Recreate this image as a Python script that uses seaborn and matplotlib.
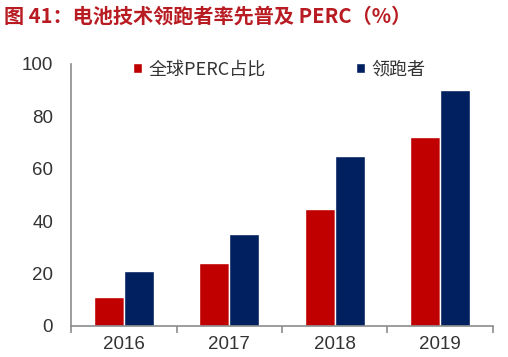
import matplotlib
matplotlib.use("Agg")
import matplotlib.pyplot as plt
import seaborn as sns
import pandas as pd
from matplotlib.ticker import FixedLocator

years = ["2016", "2017", "2018", "2019"]
series_names = ["全球PERC占比", "领跑者"]
global_perc = [11, 24, 44.5, 72]
leaders = [21, 35, 65, 90]
yticks = [0, 20, 40, 60, 80, 100]
title = "图 41：电池技术领跑者率先普及 PERC（%）"

df = pd.DataFrame({
    "year": years * 2,
    "series": [series_names[0]] * 4 + [series_names[1]] * 4,
    "value": global_perc + leaders,
})

sns.set_theme(style="white")
plt.rcParams["font.family"] = ["Liberation Sans", "Noto Sans CJK SC", "DejaVu Sans"]

fig = plt.figure(figsize=(5.08, 3.57), dpi=100)
ax = fig.add_axes([0.140, 0.087, 0.830, 0.734])

sns.barplot(data=df, x="year", y="value", hue="series", order=years,
            hue_order=series_names, palette=["#C00000", "#002060"],
            width=0.57, saturation=1, ax=ax, legend=True)

ax.set_xlim(-0.5, 3.5)
ax.set_ylim(0, 100)
ax.set_yticks(yticks)
ax.set_xlabel("")
ax.set_ylabel("")
for s in ["top", "right"]:
    ax.spines[s].set_visible(False)
for s in ["left", "bottom"]:
    ax.spines[s].set_color("#8c8c8c")
    ax.spines[s].set_linewidth(1.2)

ax.tick_params(axis="y", direction="in", length=5, width=1.2, color="#8c8c8c",
               labelsize=13.5, labelcolor="#333333", pad=13)
ax.tick_params(axis="x", which="major", length=0, labelsize=13.5,
               labelcolor="#333333", pad=7)
ax.xaxis.set_minor_locator(FixedLocator([-0.5, 0.5, 1.5, 2.5, 3.5]))
ax.tick_params(axis="x", which="minor", direction="out", length=5, width=1.2,
               color="#8c8c8c", bottom=True)

ax.legend(loc="upper left", bbox_to_anchor=(0.262, 0.830),
          bbox_transform=fig.transFigure, ncol=2, frameon=False,
          handlelength=0.5, handleheight=0.5, handletextpad=0.35,
          columnspacing=5.0, labelcolor="#333333", borderpad=0, borderaxespad=0,
          prop={"family": ["Noto Sans CJK SC"], "size": 13})

fig.text(0.008, 0.955, title, fontsize=14.5, color="#B81C22", fontweight="bold",
         va="center", ha="left", family=["Noto Sans CJK SC", "DejaVu Sans"])

fig.savefig("out.png", dpi=100)
